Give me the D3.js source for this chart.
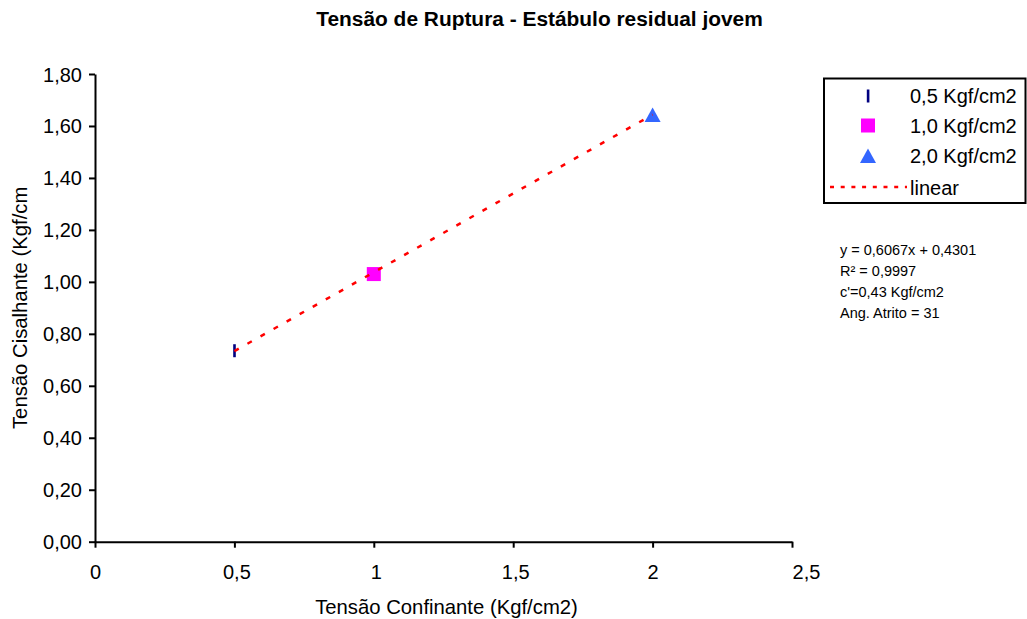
<!DOCTYPE html>
<html><head><meta charset="utf-8">
<script src="https://cdn.jsdelivr.net/npm/d3@7"></script>
<style>body{margin:0;background:#fff;}svg{display:block;font-family:"Liberation Sans",Arial,sans-serif;}</style>
</head><body>
<svg id="c" width="1027" height="619"></svg>
<script>
const seriesNames = ["0,5 Kgf/cm2", "1,0 Kgf/cm2", "2,0 Kgf/cm2"];
const xValues = [0.5, 1.0, 2.0];
const yValues = [0.735, 1.03, 1.642];
const trendX = [0.5, 2.0];
const trendY = [0.7335, 1.6435];
const xTicks = [0, 0.5, 1, 1.5, 2, 2.5];
const xTickLabels = ["0", "0,5", "1", "1,5", "2", "2,5"];
const yTicks = [0, 0.2, 0.4, 0.6, 0.8, 1.0, 1.2, 1.4, 1.6, 1.8];
const yTickLabels = ["0,00","0,20","0,40","0,60","0,80","1,00","1,20","1,40","1,60","1,80"];
const eqLines = ["y = 0,6067x + 0,4301", "R² = 0,9997", "c'=0,43 Kgf/cm2", "Ang. Atrito = 31"];
const colors = ["#000080", "#FF00FF", "#3366FF"];

const svg = d3.select("#c");
const L = 95, R = 792, T = 74, B = 541.7;
const x = d3.scaleLinear().domain([0, 2.5]).range([L, R]);
const y = d3.scaleLinear().domain([0, 1.8]).range([B, T]);

svg.append("text").attr("x", 539.5).attr("y", 25.5).attr("text-anchor", "middle")
  .attr("font-weight", "bold").attr("font-size", 20.9).text("Tensão de Ruptura - Estábulo residual jovem");

const xAxis = svg.append("g").attr("transform", `translate(0,${B})`)
  .call(d3.axisBottom(x).tickValues(xTicks).tickFormat((d,i)=>xTickLabels[i]).tickSize(6).tickSizeOuter(0));
const yAxis = svg.append("g").attr("transform", `translate(${L},0)`)
  .call(d3.axisLeft(y).tickValues(yTicks).tickFormat((d,i)=>yTickLabels[i]).tickSize(6).tickSizeOuter(0));
[xAxis, yAxis].forEach(g => {
  g.selectAll("path.domain").attr("stroke", "#000").attr("stroke-width", 2);
  g.selectAll(".tick line").attr("stroke", "#000").attr("stroke-width", 2);
  g.selectAll("text").attr("font-size", 20).attr("fill", "#000").attr("font-family", "Liberation Sans, Arial, sans-serif");
});
const xOff = [0, 2, 2, 2, 0, 14];
xAxis.selectAll("text").attr("dy", null).attr("y", 37).attr("x", (d,i)=>xOff[i]);
yAxis.selectAll("text").attr("x", -13).attr("dy", "0.35em");

svg.append("text").attr("x", 446.5).attr("y", 614).attr("text-anchor", "middle")
  .attr("font-size", 20.3).text("Tensão Confinante (Kgf/cm2)");
svg.append("text").attr("transform", `translate(27,${(T+B)/2}) rotate(-90)`).attr("text-anchor", "middle")
  .attr("font-size", 20.3).text("Tensão Cisalhante (Kgf/cm");

function drawMarker(g, i, cx, cy) {
  if (i === 0) {
    g.append("rect").attr("x", cx - 1.2).attr("y", cy - 6.5).attr("width", 2.6).attr("height", 13).attr("fill", colors[0]);
  } else if (i === 1) {
    g.append("rect").attr("x", cx - 7).attr("y", cy - 7).attr("width", 14).attr("height", 14).attr("fill", colors[1]);
  } else {
    g.append("path").attr("d", `M${cx},${cy-7.5}L${cx+8},${cy+7}L${cx-8},${cy+7}Z`).attr("fill", colors[2]);
  }
}
const pts = svg.append("g");
xValues.forEach((v, i) => drawMarker(pts, i, x(v), y(yValues[i])));

// trendline (drawn over markers)
svg.append("line").attr("x1", x(trendX[0])).attr("y1", y(trendY[0]))
  .attr("x2", x(trendX[1])).attr("y2", y(trendY[1]))
  .attr("stroke", "#FF0000").attr("stroke-width", 2.5).attr("stroke-dasharray", "5,10");

// legend
const lg = svg.append("g");
lg.append("rect").attr("x", 824).attr("y", 78.5).attr("width", 201.5).attr("height", 124.5)
  .attr("fill", "#fff").attr("stroke", "#000").attr("stroke-width", 2);
const rowY = [96, 125.5, 156, 188];
seriesNames.forEach((n, i) => {
  drawMarker(lg, i, 868, rowY[i]);
  lg.append("text").attr("x", 910).attr("y", rowY[i]).attr("dy", "0.35em").attr("font-size", 20).text(n);
});
lg.append("line").attr("x1", 830).attr("x2", 907).attr("y1", 187).attr("y2", 187)
  .attr("stroke", "#FF0000").attr("stroke-width", 2.5).attr("stroke-dasharray", "4,6.7");
lg.append("text").attr("x", 910).attr("y", rowY[3]).attr("dy", "0.35em").attr("font-size", 20).text("linear");

const eq = svg.append("g");
eqLines.forEach((t, i) => {
  eq.append("text").attr("x", 840).attr("y", 249.5 + i * 21).attr("dy", "0.35em").attr("font-size", 14.5).text(t);
});
</script>
</body></html>
